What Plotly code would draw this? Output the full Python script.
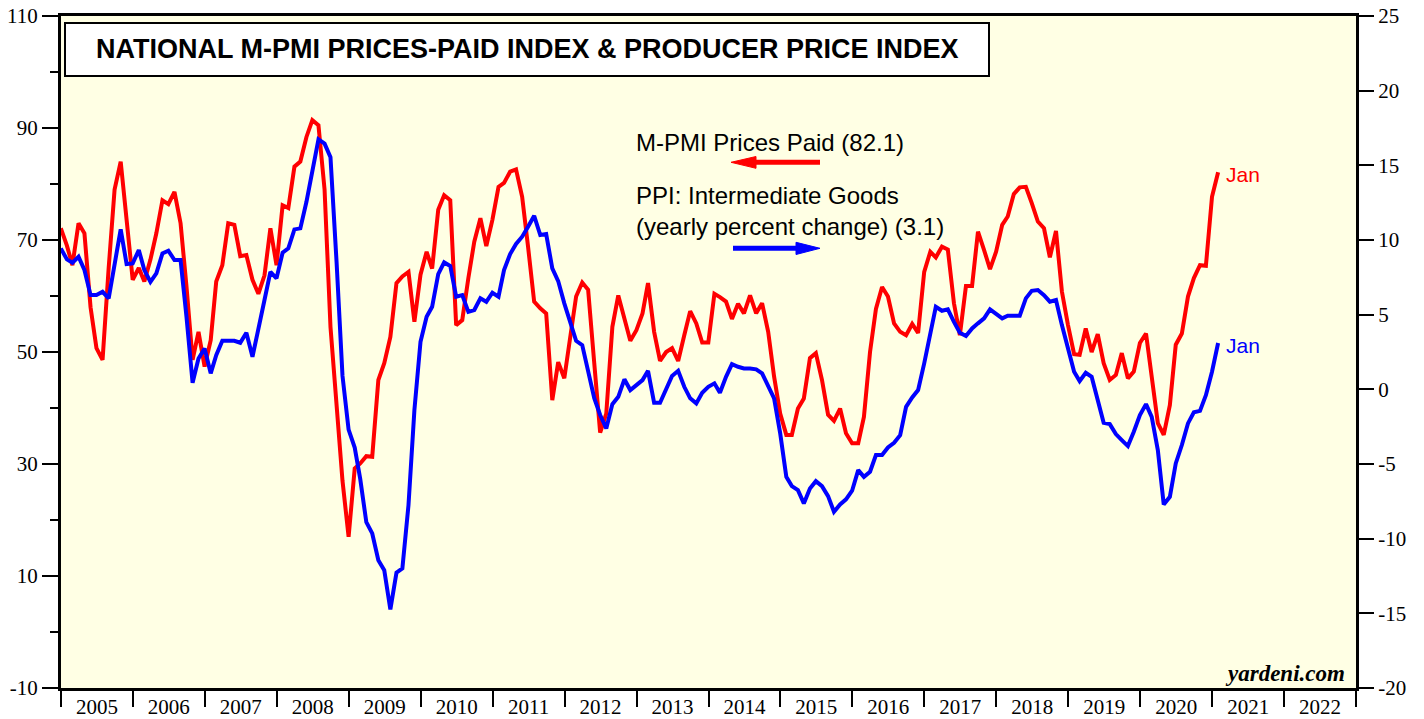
import pandas as pd
import plotly.graph_objects as go

# ---------------- data (month-end values, Dec 2004 .. Jan 2021) ----------------
months = pd.date_range("2004-12-01", periods=194, freq="MS") + pd.offsets.MonthEnd(0)

pmi_dec2004 = [72.1]
pmi_2005 = [69.0, 65.5, 73.0, 71.2, 58.0, 50.7, 48.6, 65.0, 79.0, 84.0, 74.2, 62.9]
pmi_2006 = [65.0, 62.6, 66.5, 71.2, 77.1, 76.4, 78.6, 73.0, 61.7, 48.6, 53.6, 47.4]
pmi_2007 = [52.1, 62.6, 65.5, 73.0, 72.7, 67.1, 67.3, 62.9, 60.4, 63.7, 72.1, 65.5]
pmi_2008 = [76.2, 75.7, 83.1, 84.0, 88.4, 91.4, 90.5, 79.0, 54.5, 41.4, 27.0, 17.0]
pmi_2009 = [29.2, 30.1, 31.4, 31.3, 45.0, 48.0, 52.7, 62.3, 63.5, 64.3, 55.4, 63.8]
pmi_2010 = [67.9, 64.9, 75.4, 78.0, 77.1, 54.8, 55.7, 63.2, 69.7, 73.9, 68.9, 73.6]
pmi_2011 = [79.5, 80.2, 82.2, 82.6, 77.7, 68.8, 59.0, 57.8, 56.9, 41.4, 48.2, 45.3]
pmi_2012 = [52.5, 59.9, 62.4, 61.1, 48.0, 35.6, 39.0, 54.5, 60.1, 55.7, 52.0, 53.9]
pmi_2013 = [56.9, 62.3, 53.6, 48.4, 50.0, 50.7, 48.4, 53.0, 57.3, 55.1, 51.7, 51.7]
pmi_2014 = [60.4, 59.8, 59.0, 55.9, 58.6, 56.9, 60.1, 56.9, 58.7, 53.6, 45.6, 39.0]
pmi_2015 = [35.2, 35.2, 39.9, 41.7, 48.9, 49.8, 45.0, 38.8, 37.7, 39.9, 35.5, 33.7]
pmi_2016 = [33.7, 38.4, 50.0, 57.7, 61.6, 59.9, 55.1, 53.6, 53.0, 55.0, 53.4, 64.3]
pmi_2017 = [67.9, 66.9, 68.8, 68.3, 58.7, 53.0, 61.8, 61.8, 71.5, 68.2, 64.8, 67.9]
pmi_2018 = [72.7, 74.2, 78.2, 79.4, 79.5, 76.6, 73.3, 72.1, 66.9, 71.6, 60.8, 54.8]
pmi_2019 = [49.6, 49.5, 54.2, 50.0, 53.2, 48.0, 45.0, 45.9, 49.8, 45.3, 46.5, 51.6]
pmi_2020 = [53.3, 45.6, 37.3, 35.2, 40.5, 51.3, 53.3, 59.9, 63.2, 65.5, 65.4, 77.7]
pmi_2021 = [82.1]

ppi_dec2004 = [9.44]
ppi_2005 = [8.7, 8.48, 8.88, 7.99, 6.31, 6.31, 6.53, 6.09, 8.43, 10.71, 8.39, 8.43]
ppi_2006 = [9.33, 7.99, 7.2, 7.77, 9.1, 9.28, 8.66, 8.66, 4.86, 0.44, 2.07, 2.74]
ppi_2007 = [1.07, 2.29, 3.25, 3.25, 3.25, 3.12, 3.79, 2.18, 4.19, 5.98, 7.87, 7.43]
ppi_2008 = [9.15, 9.44, 10.71, 10.78, 12.56, 14.57, 16.74, 16.45, 15.54, 8.5, 0.9, -2.7]
ppi_2009 = [-3.9, -6.0, -8.9, -9.65, -11.44, -12.11, -14.74, -12.28, -11.99, -7.75, -1.39, 3.18]
ppi_2010 = [4.86, 5.53, 7.72, 8.5, 8.26, 6.2, 6.31, 5.19, 5.31, 6.09, 5.86, 6.47]
ppi_2011 = [6.2, 7.99, 9.06, 9.73, 10.22, 10.89, 11.62, 10.33, 10.4, 8.1, 7.25, 5.76]
ppi_2012 = [4.46, 3.25, 2.96, 1.29, -0.6, -1.72, -2.62, -0.99, -0.5, 0.67, -0.05, 0.28]
ppi_2013 = [0.62, 1.24, -0.9, -0.9, 0.0, 0.89, 1.24, 0.17, -0.6, -0.94, -0.23, 0.17]
ppi_2014 = [0.40, -0.23, 0.84, 1.69, 1.51, 1.40, 1.40, 1.34, 1.07, 0.28, -0.6, -2.95]
ppi_2015 = [-5.86, -6.48, -6.75, -7.64, -6.64, -6.15, -6.48, -7.15, -8.2, -7.71, -7.37, -6.79]
ppi_2016 = [-5.41, -5.86, -5.52, -4.4, -4.4, -3.89, -3.58, -3.07, -1.17, -0.54, -0.05, 1.74]
ppi_2017 = [3.75, 5.53, 5.26, 5.36, 4.52, 3.79, 3.57, 4.08, 4.42, 4.75, 5.36, 5.04]
ppi_2018 = [4.75, 4.93, 4.93, 4.93, 6.09, 6.6, 6.65, 6.31, 5.87, 5.98, 4.3, 2.63]
ppi_2019 = [1.18, 0.55, 1.11, 0.84, -0.72, -2.24, -2.33, -3.0, -3.4, -3.8, -2.84, -1.72]
ppi_2020 = [-0.99, -1.84, -4.07, -7.71, -7.2, -4.96, -3.73, -2.28, -1.54, -1.44, -0.39, 1.18]
ppi_2021 = [3.1]

pmi_prices_paid = (pmi_dec2004 + pmi_2005 + pmi_2006 + pmi_2007 + pmi_2008 + pmi_2009
                   + pmi_2010 + pmi_2011 + pmi_2012 + pmi_2013 + pmi_2014 + pmi_2015
                   + pmi_2016 + pmi_2017 + pmi_2018 + pmi_2019 + pmi_2020 + pmi_2021)
ppi_intermediate = (ppi_dec2004 + ppi_2005 + ppi_2006 + ppi_2007 + ppi_2008 + ppi_2009
                    + ppi_2010 + ppi_2011 + ppi_2012 + ppi_2013 + ppi_2014 + ppi_2015
                    + ppi_2016 + ppi_2017 + ppi_2018 + ppi_2019 + ppi_2020 + ppi_2021)

# axis tick values / labels (plain hyphen for negatives, as in the reference)
left_tickvals = [-10, 10, 30, 50, 70, 90, 110]
left_ticktext = ["-10", "10", "30", "50", "70", "90", "110"]
right_tickvals = [-20, -15, -10, -5, 0, 5, 10, 15, 20, 25]
right_ticktext = ["-20", "-15", "-10", "-5", "0", "5", "10", "15", "20", "25"]

title_text = "NATIONAL M-PMI PRICES-PAID INDEX & PRODUCER PRICE INDEX"
red_label = "M-PMI Prices Paid (82.1)"
blue_label = "PPI: Intermediate Goods<br>(yearly percent change) (3.1)"

# ---------------- layout helpers (pixel -> paper) ----------------
W, H = 1424, 719
L, R, T, B = 61, 1356, 16, 688


def px(x):
    return (x - L) / (R - L)


def py(y):
    return (B - y) / (B - T)


RED = "#FF0000"
BLUE = "#0000FF"
SERIF = "Liberation Serif, Times New Roman, serif"
SANS = "Liberation Sans, Arial, sans-serif"

fig = go.Figure()
fig.add_trace(go.Scatter(x=months, y=pmi_prices_paid, mode="lines", yaxis="y",
                         line=dict(color=RED, width=4), showlegend=False))
fig.add_trace(go.Scatter(x=months, y=ppi_intermediate, mode="lines", yaxis="y2",
                         line=dict(color=BLUE, width=4), showlegend=False))

shapes = [
    # title box
    dict(type="rect", xref="paper", yref="paper", x0=px(65), x1=px(989), y0=py(76), y1=py(23),
         fillcolor="white", line=dict(color="black", width=2), layer="above"),
    # red arrow (points left)
    dict(type="line", xref="paper", yref="paper", x0=px(750), x1=px(820), y0=py(162.3), y1=py(162.3),
         line=dict(color=RED, width=5)),
    dict(type="path", xref="paper", yref="paper",
         path=f"M {px(731)},{py(162.3)} L {px(756)},{py(156.5)} L {px(756)},{py(168.3)} Z",
         fillcolor=RED, line=dict(color=RED, width=1)),
    # blue arrow (points right)
    dict(type="line", xref="paper", yref="paper", x0=px(733), x1=px(800), y0=py(248.3), y1=py(248.3),
         line=dict(color=BLUE, width=5)),
    dict(type="path", xref="paper", yref="paper",
         path=f"M {px(820)},{py(248.3)} L {px(796)},{py(242.3)} L {px(796)},{py(254.5)} Z",
         fillcolor=BLUE, line=dict(color=BLUE, width=1)),
]

annotations = [
    dict(text=f"<b>{title_text}</b>", xref="paper", yref="paper", x=px(527), y=py(49.5),
         xanchor="center", yanchor="middle", showarrow=False,
         font=dict(family=SANS, size=27, color="black")),
    dict(text=red_label, xref="paper", yref="paper", x=px(634), y=py(142),
         xanchor="left", yanchor="middle", showarrow=False, align="left",
         font=dict(family=SANS, size=24, color="black")),
    dict(text=blue_label, xref="paper", yref="paper", x=px(634), y=py(211),
         xanchor="left", yanchor="middle", showarrow=False, align="left",
         font=dict(family=SANS, size=24, color="black")),
    dict(text="Jan", xref="paper", yref="paper", x=px(1224), y=py(174),
         xanchor="left", yanchor="middle", showarrow=False,
         font=dict(family=SANS, size=21, color=RED)),
    dict(text="Jan", xref="paper", yref="paper", x=px(1224), y=py(345),
         xanchor="left", yanchor="middle", showarrow=False,
         font=dict(family=SANS, size=21, color=BLUE)),
    dict(text="<b><i>yardeni.com</i></b>", xref="paper", yref="paper", x=px(1347), y=py(673),
         xanchor="right", yanchor="middle", showarrow=False,
         font=dict(family=SERIF, size=23, color="black")),
]

fig.update_layout(
    width=W, height=H,
    margin=dict(l=L, r=W - R, t=T, b=H - B, pad=0, autoexpand=False),
    paper_bgcolor="white",
    plot_bgcolor="#FFFFE4",
    showlegend=False,
    shapes=shapes,
    annotations=annotations,
    xaxis=dict(
        type="date", range=["2005-01-01", "2023-01-01"], automargin=False,
        tick0="2005-01-01", dtick="M12", tickformat="%Y", ticklabelmode="period",
        ticks="outside", ticklen=16, tickwidth=2, tickcolor="black",
        ticklabelstandoff=-18,
        showline=True, linewidth=3, linecolor="black", mirror=True,
        showgrid=False, zeroline=False,
        tickfont=dict(family=SERIF, size=21, color="black"),
    ),
    yaxis=dict(
        range=[-10, 110], automargin=False,
        tickmode="array", tickvals=left_tickvals, ticktext=left_ticktext,
        ticks="outside", ticklen=16, tickwidth=2, tickcolor="black",
        minor=dict(tickmode="linear", tick0=-10, dtick=10, ticks="outside", ticklen=8,
                   tickwidth=2, tickcolor="black"),
        showline=True, linewidth=3, linecolor="black",
        showgrid=False, zeroline=False,
        tickfont=dict(family=SERIF, size=21, color="black"),
    ),
    yaxis2=dict(
        overlaying="y", side="right", range=[-20, 25], automargin=False,
        tickmode="array", tickvals=right_tickvals, ticktext=right_ticktext,
        ticks="outside", ticklen=15, tickwidth=2, tickcolor="black",
        showline=True, linewidth=3, linecolor="black",
        showgrid=False, zeroline=False,
        tickfont=dict(family=SERIF, size=21, color="black"),
    ),
)

fig.write_html("out.html", config={"displayModeBar": False},
               post_script="document.body.style.margin='0';")
